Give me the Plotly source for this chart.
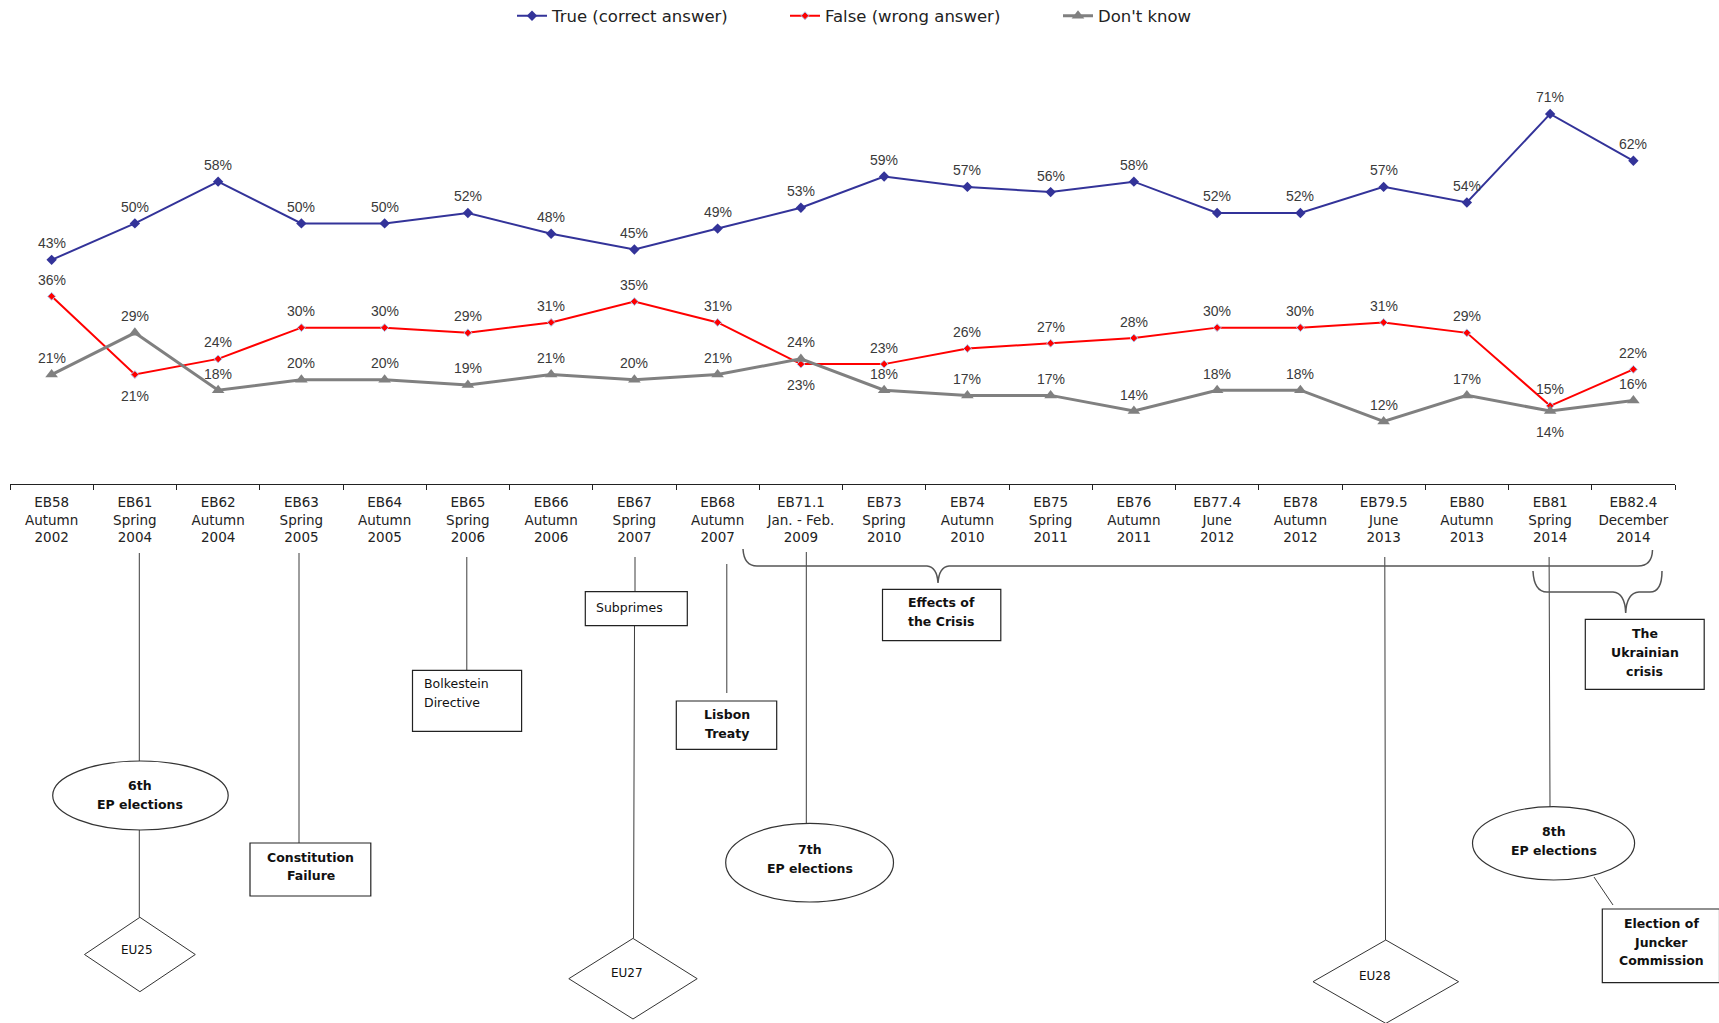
import plotly.graph_objects as go

# Eurobarometer waves (x-axis categories)
waves = [
    "EB58<br>Autumn<br>2002", "EB61<br>Spring<br>2004", "EB62<br>Autumn<br>2004",
    "EB63<br>Spring<br>2005", "EB64<br>Autumn<br>2005", "EB65<br>Spring<br>2006",
    "EB66<br>Autumn<br>2006", "EB67<br>Spring<br>2007", "EB68<br>Autumn<br>2007",
    "EB71.1<br>Jan. - Feb.<br>2009", "EB73<br>Spring<br>2010", "EB74<br>Autumn<br>2010",
    "EB75<br>Spring<br>2011", "EB76<br>Autumn<br>2011", "EB77.4<br>June<br>2012",
    "EB78<br>Autumn<br>2012", "EB79.5<br>June<br>2013", "EB80<br>Autumn<br>2013",
    "EB81<br>Spring<br>2014", "EB82.4<br>December<br>2014",
]

# Shares of answers, in %
true_correct = [43, 50, 58, 50, 50, 52, 48, 45, 49, 53, 59, 57, 56, 58, 52, 52, 57, 54, 71, 62]
false_wrong = [36, 21, 24, 30, 30, 29, 31, 35, 31, 23, 23, 26, 27, 28, 30, 30, 31, 29, 15, 22]
dont_know = [21, 29, 18, 20, 20, 19, 21, 20, 21, 24, 18, 17, 17, 14, 18, 18, 12, 17, 14, 16]

# Points whose value label sits under the marker
FALSE_BELOW = {1, 9}
DK_BELOW = {18}

W, H = 1719, 1023
PL, PR, PT, PB = 10, 1675, 67, 484  # plot area in page pixels


def px(x):
    return (x - PL) / (PR - PL)


def py(y):
    return (PB - y) / (PB - PT)


BLUE = "#333399"
RED = "#ff0000"
GREY = "#808080"
INK = "#3a3a3a"

fig = go.Figure()
fig.add_trace(go.Scatter(
    x=waves, y=true_correct, name="True (correct answer)", mode="lines+markers",
    line=dict(color=BLUE, width=2),
    marker=dict(symbol="diamond", size=8, color=BLUE),
))
fig.add_trace(go.Scatter(
    x=waves, y=false_wrong, name="False (wrong answer)", mode="lines+markers",
    line=dict(color=RED, width=2),
    marker=dict(symbol="diamond", size=6, color=RED, line=dict(color="#a9c8f0", width=1)),
))
fig.add_trace(go.Scatter(
    x=waves, y=dont_know, name="Don't know", mode="lines+markers",
    line=dict(color=GREY, width=3),
    marker=dict(symbol="triangle-up", size=11, color=GREY),
))

annotations = []


def value_labels(values, below):
    for i, v in enumerate(values):
        annotations.append(dict(
            x=waves[i], y=v, xref="x", yref="y", text=f"{v}%", showarrow=False,
            yshift=-21 if i in below else 16.5,
            font=dict(family="Liberation Sans, Arial", size=14, color=INK),
        ))


value_labels(true_correct, set())
value_labels(false_wrong, FALSE_BELOW)
value_labels(dont_know, DK_BELOW)

# ---- timeline of events drawn under the axis ----
shapes = []
EDGE = "#3c3c3c"


def vline(x0, y0, x1, y1):
    shapes.append(dict(type="line", xref="paper", yref="paper",
                       x0=px(x0), y0=py(y0), x1=px(x1), y1=py(y1),
                       line=dict(color=EDGE, width=1)))


def box(x0, x1, y0, y1):
    shapes.append(dict(type="rect", xref="paper", yref="paper",
                       x0=px(x0), x1=px(x1), y0=py(y0), y1=py(y1),
                       fillcolor="white", line=dict(color="#222", width=1.2)))


def oval(x0, x1, y0, y1):
    shapes.append(dict(type="circle", xref="paper", yref="paper",
                       x0=px(x0), x1=px(x1), y0=py(y0), y1=py(y1),
                       fillcolor="white", line=dict(color="#333", width=1.2)))


def diamond(cx, cy, hw, hh):
    pts = [(cx, cy - hh), (cx + hw, cy), (cx, cy + hh), (cx - hw, cy)]
    path = "M " + " L ".join(f"{px(a):.5f},{py(b):.5f}" for a, b in pts) + " Z"
    shapes.append(dict(type="path", xref="paper", yref="paper", path=path,
                       fillcolor="white", line=dict(color="#333", width=1)))


def brace(cmds):
    parts = []
    for c in cmds:
        op, coords = c[0], c[1:]
        parts.append(op + " " + " ".join(f"{px(a):.5f},{py(b):.5f}" for a, b in coords))
    shapes.append(dict(type="path", xref="paper", yref="paper", path=" ".join(parts),
                       line=dict(color="#555", width=1.5)))


def label(lines, x, ys, bold=False, size=12.5, align="center"):
    for t, y in zip(lines, ys):
        annotations.append(dict(
            x=px(x), y=py(y), xref="paper", yref="paper", showarrow=False,
            text=f"<b>{t}</b>" if bold else t,
            xanchor="left" if align == "left" else "center", yanchor="middle",
            font=dict(family="DejaVu Sans", size=size, color="#111"),
        ))


# connecting lines
vline(139.3, 553, 139.3, 761)
vline(139.3, 830, 139.3, 917)
vline(299, 553, 299, 843)
vline(466.8, 557, 466.8, 670)
vline(635, 557, 635, 592)
vline(634.5, 626, 633.5, 938)
vline(726.8, 564, 726.8, 693)
vline(806.3, 552, 806.3, 823)
vline(1384.8, 557, 1385.5, 940)
vline(1549.1, 557, 1550, 807)
vline(1594, 877, 1613, 905)

# braces for the crisis periods
brace([("M", (743, 549)), ("Q", (744, 566), (757, 566)), ("L", (927, 566)),
       ("Q", (937, 567), (938, 583)), ("Q", (939, 567), (949, 566)),
       ("L", (1638, 566)), ("Q", (1652, 566), (1652.5, 550))])
brace([("M", (1533, 571)), ("Q", (1534, 592), (1547, 592)), ("L", (1613, 592)),
       ("Q", (1625, 593), (1625.7, 613)), ("Q", (1626.5, 593), (1639, 592)),
       ("L", (1650, 592)), ("Q", (1662, 592), (1662, 571))])

# event boxes, ovals and enlargement diamonds
box(250, 370.8, 843, 896)
box(412.5, 521.6, 670.3, 731.3)
box(585.3, 687.3, 591.7, 625.7)
box(676.3, 776.7, 701, 749.3)
box(882.5, 1000.8, 589.3, 640.7)
box(1585.3, 1704.2, 619.3, 689.3)
box(1602.3, 1719.5, 909, 982.7)
oval(52.7, 228.2, 761, 830)
oval(725.7, 893.5, 823.3, 902)
oval(1472.5, 1634.6, 806.7, 880)
diamond(139.9, 954.5, 55.4, 37.2)
diamond(633, 978.7, 64.2, 40.3)
diamond(1385.8, 981.7, 72.8, 41.7)

label(["6th", "EP elections"], 140, [785, 804], bold=True)
label(["EU25"], 137, [950], size=12)
label(["Constitution", "Failure"], 310.5, [857, 875.5], bold=True)
label(["Bolkestein", "Directive"], 421.5, [683.7, 702.3], align="left")
label(["Subprimes"], 594, [607], align="left")
label(["EU27"], 626.5, [973], size=12)
label(["Lisbon", "Treaty"], 726.5, [714.3, 733.3], bold=True)
label(["7th", "EP elections"], 809.5, [849.3, 868.3], bold=True)
label(["Effects of", "the Crisis"], 941.5, [602.7, 621.3], bold=True)
label(["EU28"], 1375, [976], size=12)
label(["The", "Ukrainian", "crisis"], 1644.5, [633.3, 652.7, 671.3], bold=True)
label(["8th", "EP elections"], 1553.5, [831.7, 850.7], bold=True)
label(["Election of", "Juncker", "Commission"], 1661, [923.3, 942.3, 960.5], bold=True)

fig.update_layout(
    width=W, height=H,
    margin=dict(l=PL, r=W - PR, t=PT, b=H - PB, autoexpand=False),
    paper_bgcolor="white", plot_bgcolor="white",
    showlegend=True,
    legend=dict(
        orientation="h", x=px(512), y=py(-1.5), xanchor="left", yanchor="top",
        entrywidth=228, entrywidthmode="pixels",
        font=dict(family="DejaVu Sans", size=16.5, color="#222"),
        bgcolor="rgba(0,0,0,0)",
    ),
    xaxis=dict(
        type="category", categoryorder="array", categoryarray=waves,
        range=[-0.5, len(waves) - 0.5],
        showline=True, linecolor="#222", linewidth=1.3,
        ticks="outside", tickson="boundaries", ticklen=5, tickcolor="#222", tickwidth=1.2,
        ticklabelstandoff=6,
        showgrid=False, zeroline=False,
        tickfont=dict(family="DejaVu Sans", size=13.5, color="#222"),
    ),
    xaxis2=dict(
        overlaying="x", anchor="y", side="bottom", type="linear",
        range=[-0.5, len(waves) - 0.5], tickmode="array",
        tickvals=list(range(len(waves))), showticklabels=False,
        ticks="outside", ticklen=4, tickcolor="#222", tickwidth=1.2,
        showline=False, showgrid=False, zeroline=False,
    ),
    yaxis=dict(range=[0, 80], visible=False, showgrid=False, zeroline=False),
    shapes=shapes,
    annotations=annotations,
)

fig.write_html("out.html")
